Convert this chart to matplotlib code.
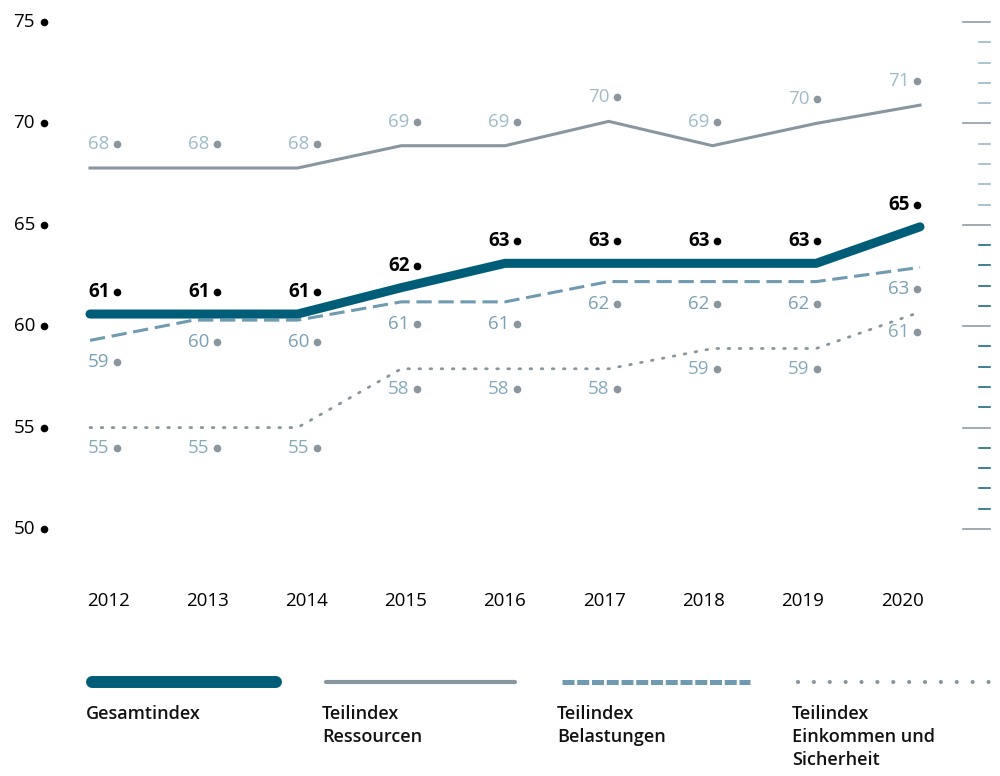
import numpy as np
import matplotlib.pyplot as plt
from matplotlib.lines import Line2D

plt.rcParams['font.family'] = ['Open Sans', 'DejaVu Sans']

years = [2012, 2013, 2014, 2015, 2016, 2017, 2018, 2019, 2020]
gesamt = [60.6, 60.6, 60.6, 61.9, 63.1, 63.1, 63.1, 63.1, 64.9]
ressourcen = [67.8, 67.8, 67.8, 68.9, 68.9, 70.1, 68.9, 70.0, 70.9]
belastungen = [59.3, 60.3, 60.3, 61.2, 61.2, 62.2, 62.2, 62.2, 62.9]
einkommen = [55.0, 55.0, 55.0, 57.9, 57.9, 57.9, 58.9, 58.9, 60.7]
yticks = [50, 55, 60, 65, 70, 75]
legend_labels = ['Gesamtindex', 'Teilindex\nRessourcen', 'Teilindex\nBelastungen',
                 'Teilindex\nEinkommen und\nSicherheit']

c_ges = '#005d78'
c_res = '#8896a0'
c_bel = '#6f9ab0'
c_ein = '#8a969e'
c_dot = '#8a969e'

fig = plt.figure(figsize=(10, 7.76), dpi=100)
ax = fig.add_axes([0, 1 - 640 / 776, 1, 640 / 776])
sx = 103.75
sy = 20.28
ax.set_xlim(-90 / sx, 8 + 80 / sx)
ax.set_ylim(75 - (640 - 22) / sy, 75 + 22 / sy)
ax.axis('off')

x = np.arange(len(years))
ax.plot(x, ressourcen, color=c_res, lw=2.2, solid_joinstyle='miter')
ax.plot(x, einkommen, color=c_ein, lw=2.0, linestyle=(0, (0.6, 3.4)), dash_capstyle='round')
ax.plot(x, belastungen, color=c_bel, lw=2.2, linestyle=(0, (5, 2.2)))
ax.plot(x, gesamt, color=c_ges, lw=6.5, solid_capstyle='round', solid_joinstyle='round')

# value labels, placed relative to the value at each year
lab_x = (x * 100 - 2) / sx
dot_dx = 29 / sx
series = [
    (gesamt, 22, 'black', 'black', 'bold'),
    (ressourcen, 24, '#9fbccb', c_dot, 'normal'),
    (belastungen, -22, '#7aa0b6', c_dot, 'normal'),
    (einkommen, -20, '#86aabd', c_dot, 'normal'),
]
for vals, off, tc, dc, fw in series:
    for lx, v in zip(lab_x, vals):
        vy = v + off / sy
        ax.text(lx, vy, f'{round(v):d}', fontsize=13.5, color=tc, fontweight=fw,
                ha='left', va='center')
        ax.plot(lx + dot_dx, vy, 'o', color=dc, ms=5.5, mec='none')

# left y axis labels
for t in yticks:
    ax.text(35 / sx - 90 / sx, t, str(t), fontsize=13.5, ha='right', va='center', color='black')
    ax.plot(44 / sx - 90 / sx, t, 'o', color='black', ms=5.5, mec='none')

# right scale ticks
for t in range(50, 76):
    if t % 5 == 0:
        ax.plot([(963 - 90) / sx, (990 - 90) / sx], [t, t], color='#8f9ca4', lw=1.2)
    else:
        col = '#9ab9c9' if t > 65 else '#1f6a86'
        ax.plot([(979 - 90) / sx, (990 - 90) / sx], [t, t], color=col, lw=1.2)

# year labels
for i, yr in enumerate(years):
    ax.text((108 + 99.25 * i - 90) / sx, 75 - (601 - 22) / sy, str(yr), fontsize=13.5,
            ha='center', va='center', color='black')

# legend
ly = 1 - 682 / 776
fig.add_artist(Line2D([92 / 1000, 276 / 1000], [ly, ly], color=c_ges, lw=8.6,
                      solid_capstyle='round'))
fig.add_artist(Line2D([326 / 1000, 515 / 1000], [ly, ly], color=c_res, lw=3.0,
                      solid_capstyle='round'))
fig.add_artist(Line2D([562 / 1000, 750 / 1000], [ly, ly], color=c_bel, lw=3.6,
                      linestyle=(0, (2.4, 0.55))))
fig.add_artist(Line2D([798 / 1000, 990 / 1000], [ly, ly], color=c_ein, lw=3.0,
                      linestyle=(0, (0.01, 3.8)), dash_capstyle='round'))
for lx, txt in zip([86, 322, 557, 792], legend_labels):
    fig.text(lx / 1000, 1 - 705 / 776, txt, fontsize=13, fontweight='semibold',
             ha='left', va='top', linespacing=1.35, color='#111111')

fig.savefig('out.png', dpi=100)
